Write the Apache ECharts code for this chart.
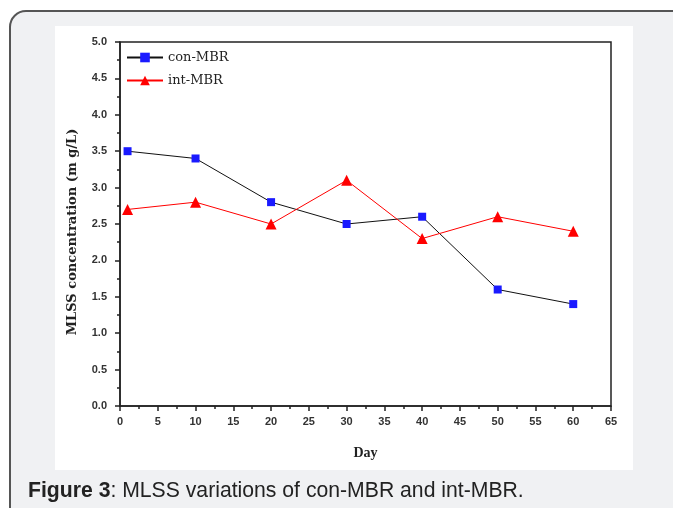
<!DOCTYPE html>
<html>
<head>
<meta charset="utf-8">
<script src="https://cdn.jsdelivr.net/npm/echarts@6/dist/echarts.min.js"></script>
<style>
html,body{margin:0;padding:0;background:#fff;}
#c{width:673px;height:508px;}
</style>
</head>
<body>
<div id="c"></div>
<script>
const days = [1, 10, 20, 30, 40, 50, 60];
const conMBR = [3.5, 3.4, 2.8, 2.5, 2.6, 1.6, 1.4];
const intMBR = [2.7, 2.8, 2.5, 3.1, 2.3, 2.6, 2.4];
const seriesNames = ['con-MBR', 'int-MBR'];
const xTitle = 'Day';
const yTitle = 'MLSS concentration (m g/L)';
const captionBold = 'Figure 3';
const captionRest = ': MLSS variations of con-MBR and int-MBR.';

const chart = echarts.init(document.getElementById('c'), null, {renderer: 'canvas'});
const labelFont = {fontFamily: '"Liberation Sans", Arial, sans-serif', fontSize: 11, fontWeight: 'bold', color: '#333'};
const serif = '"DejaVu Serif", serif';
const serifL = '"Liberation Serif", serif';
chart.setOption({
  animation: false,
  backgroundColor: '#fff',
  graphic: [
    {type: 'rect', z: -10, shape: {x: 10, y: 11, width: 680, height: 520, r: 16},
     style: {fill: '#f0f1f3', stroke: '#555', lineWidth: 2}},
    {type: 'rect', z: -9, shape: {x: 55, y: 26, width: 578, height: 444},
     style: {fill: '#fff'}},
    {type: 'text', z: 10, left: 28, top: 481,
     style: {text: '{b|' + captionBold + '}{r|' + captionRest + '}',
       rich: {b: {fontFamily: '"Liberation Sans", Arial, sans-serif', fontSize: 21.2, fontWeight: 'bold', fill: '#222'},
              r: {fontFamily: '"Liberation Sans", Arial, sans-serif', fontSize: 21.2, fill: '#222'}}}}
  ],
  grid: {left: 120, top: 42, right: 62, bottom: 102, show: true, borderColor: '#222', borderWidth: 1.5, backgroundColor: 'transparent'},
  legend: {
    orient: 'vertical', left: 121, top: 46, itemWidth: 36, itemHeight: 12, itemGap: 10,
    textStyle: {fontFamily: serif, fontSize: 13, color: '#222'},
    data: seriesNames
  },
  xAxis: {
    type: 'value', min: 0, max: 65, interval: 5,
    name: xTitle, nameLocation: 'middle', nameGap: 40,
    nameTextStyle: {fontFamily: serifL, fontSize: 14, fontWeight: 'bold', color: '#222'},
    axisLine: {show: true, lineStyle: {color: '#222', width: 1.5}},
    axisTick: {show: true, inside: false, length: 5, lineStyle: {color: '#222', width: 1.5}},
    minorTick: {show: true, splitNumber: 2, length: 3, lineStyle: {color: '#222', width: 1.5}},
    splitLine: {show: false},
    axisLabel: Object.assign({margin: 10}, labelFont)
  },
  yAxis: {
    type: 'value', min: 0, max: 5, interval: 0.5,
    name: yTitle, nameLocation: 'middle', nameGap: 41, nameRotate: 90,
    nameTextStyle: {fontFamily: serif, fontSize: 13, fontWeight: 'bold', color: '#222', padding: [0, 16, 0, 0]},
    axisLine: {show: true, lineStyle: {color: '#222', width: 1.5}},
    axisTick: {show: true, inside: false, length: 5, lineStyle: {color: '#222', width: 1.5}},
    minorTick: {show: true, splitNumber: 2, length: 3, lineStyle: {color: '#222', width: 1.5}},
    splitLine: {show: false},
    axisLabel: Object.assign({margin: 13, formatter: v => v.toFixed(1)}, labelFont)
  },
  series: [
    {name: seriesNames[0], type: 'line', data: days.map((d, i) => [d, conMBR[i]]),
     symbol: 'rect', symbolSize: 8, lineStyle: {color: '#111', width: 1},
     itemStyle: {color: '#1a1aff', borderWidth: 0}, color: '#1a1aff'},
    {name: seriesNames[1], type: 'line', data: days.map((d, i) => [d, intMBR[i]]),
     symbol: 'triangle', symbolSize: 11, lineStyle: {color: '#ff0000', width: 1},
     itemStyle: {color: '#ff0000', borderWidth: 0}, color: '#ff0000'}
  ]
});
</script>
</body>
</html>
